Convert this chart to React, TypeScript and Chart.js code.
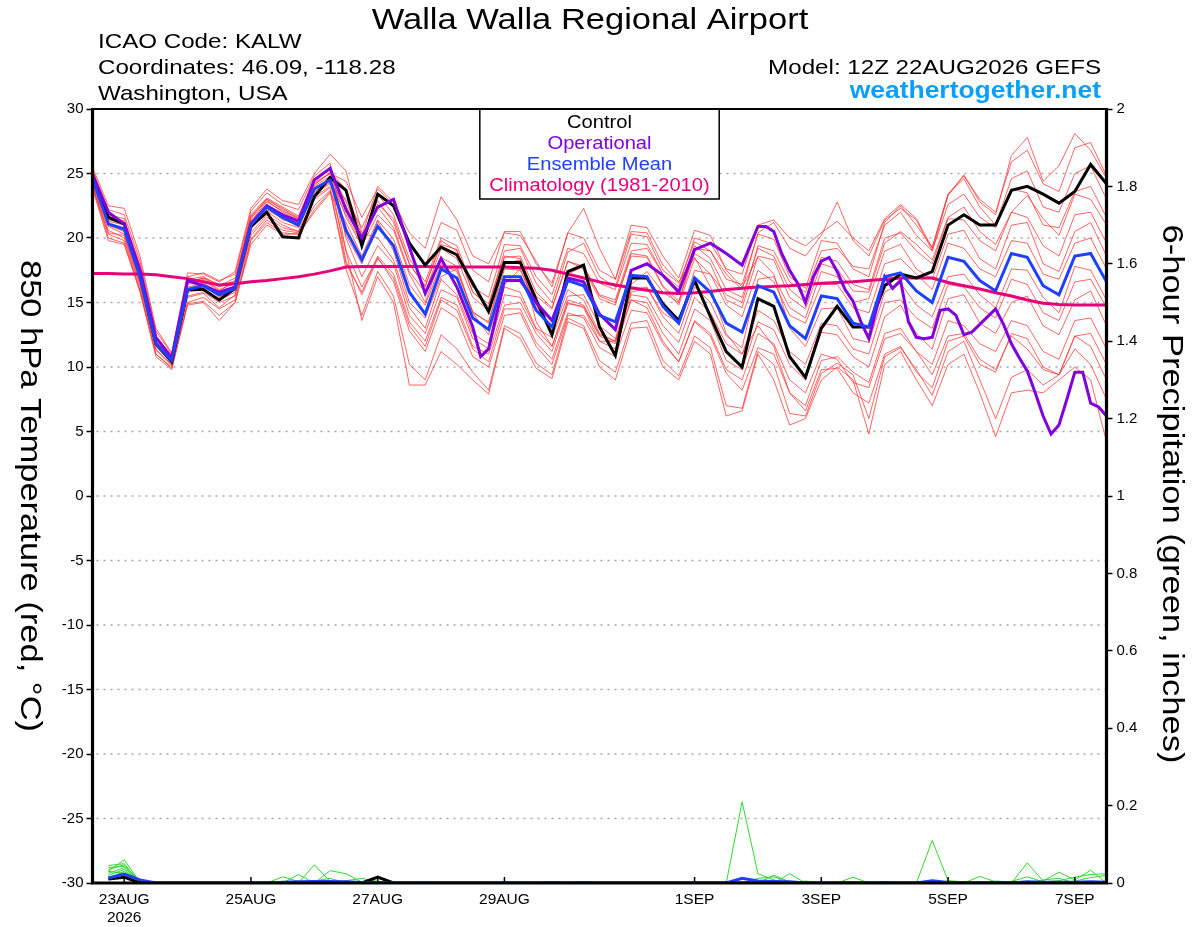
import React, { useEffect, useRef } from "react";
import { Chart, registerables } from "chart.js";

Chart.register(...registerables);

// ---------------- data ----------------
const STEP_HOURS = 6; // one value every 6 h from 12Z 22AUG2026
const X_MAX_HOURS = 384;

const xTickHours = [12, 60, 108, 156, 228, 276, 324, 372];
const xTickLabels: (string | string[])[] = [["23AUG", "2026"], "25AUG", "27AUG", "29AUG", "1SEP", "3SEP", "5SEP", "7SEP"];

const tempAxis = { min: -30, max: 30, step: 5 };
const precipAxis = { min: 0, max: 2, step: 0.2 };

const controlTemp = [
  24.9, 21.6, 21.1, 17.1, 11.8, 10.4, 16.0, 16.0, 15.2, 16.1,
  20.9, 22.0, 20.1, 20.0, 23.2, 24.7, 23.7, 19.4, 23.4, 22.5,
  19.6, 17.9, 19.3, 18.7, 16.5, 14.3, 18.1, 18.1, 15.2, 12.5,
  17.4, 17.9, 13.1, 10.9, 16.9, 16.9, 14.9, 13.6, 16.7, 13.9,
  11.2, 10.0, 15.3, 14.7, 10.8, 9.2, 13.0, 14.7, 13.1, 13.1,
  16.3, 17.2, 16.9, 17.4, 21.0, 21.8, 21.0, 21.0, 23.7, 24.0,
  23.4, 22.7, 23.6, 25.7, 24.2,
];

const meanTemp = [
  24.6, 21.1, 20.7, 17.0, 11.8, 10.5, 16.0, 16.3, 15.6, 16.1,
  21.0, 22.4, 21.6, 21.0, 23.8, 24.5, 20.6, 18.3, 20.9, 19.4,
  15.8, 14.1, 17.6, 16.9, 13.8, 12.9, 17.0, 17.0, 14.4, 13.1,
  16.7, 16.3, 14.0, 13.5, 17.1, 17.0, 14.7, 13.4, 16.9, 15.8,
  13.4, 12.7, 16.3, 15.8, 13.2, 12.2, 15.5, 15.3, 13.4, 13.1,
  17.0, 17.3, 15.9, 15.0, 18.5, 18.2, 16.7, 15.9, 18.8, 18.5,
  16.3, 15.6, 18.6, 18.8, 16.6,
];

const climatologyTemp = [
  17.25, 17.25, 17.2, 17.2, 17.15, 17.0, 16.85, 16.6, 16.35, 16.45,
  16.6, 16.7, 16.85, 17.0, 17.2, 17.45, 17.75, 17.8, 17.8, 17.8,
  17.8, 17.8, 17.75, 17.75, 17.75, 17.75, 17.75, 17.7, 17.65, 17.5,
  17.2, 16.9, 16.6, 16.35, 16.15, 15.95, 15.75, 15.7, 15.75, 15.85,
  16.0, 16.1, 16.2, 16.25, 16.3, 16.4, 16.5, 16.55, 16.6, 16.7,
  16.8, 16.9, 16.9, 16.9, 16.55, 16.3, 16.05, 15.75, 15.5, 15.2,
  14.95, 14.85, 14.8, 14.8, 14.8,
];

// operational run (3-hourly in places)
const opHours = [
  0, 6, 12, 18, 24, 30, 36, 42, 48, 54, 60, 66, 72, 78, 84, 90, 96, 102, 108, 114, 120, 126, 132, 138, 144,
  147,
  150, 156, 162, 168, 174, 180, 186, 192, 198, 204, 210, 216, 222, 228, 234, 240, 246, 252,
  255, 258, 261, 264, 267, 270, 273, 276, 279, 282, 285, 288, 291, 294, 297, 300, 303, 306, 309, 312, 315, 318,
  321, 324, 327, 330, 333, 336, 339, 342, 345, 348, 351, 354, 357, 360, 363, 366, 369, 372, 375, 378, 381, 384,
];
const operationalTemp = [
  24.9, 22.0, 21.1, 17.5, 12.3, 10.7, 16.7, 16.3, 15.8, 16.2, 21.1, 22.5, 21.8, 21.3, 24.5, 25.4, 22.2, 20.0, 22.4, 23.0, 19.3, 15.7, 18.4, 16.2, 13.1,
  10.8,
  11.4, 16.7, 16.7, 15.0, 13.6, 16.9, 16.6, 14.1, 12.9, 17.5, 18.0, 17.1, 15.8, 19.1, 19.6, 18.8, 17.9, 20.9,
  20.9, 20.5, 18.8, 17.5, 16.5, 15.0, 17.0, 18.2, 18.5, 17.4, 16.0, 15.1, 13.5, 12.2, 14.6, 17.0, 16.1, 16.7, 13.5, 12.3,
  12.2, 12.3, 14.4, 14.5, 14.0, 12.5, 12.7, 13.3, 13.9, 14.5, 13.3, 11.8, 10.7, 9.7, 8.0, 6.2, 4.8, 5.5, 7.5, 9.6, 9.6, 7.2, 6.9, 6.2,
];

// ensemble members (850 hPa temperature)
const member01 = [
  25.2, 21.8, 21.5, 17.9, 12.4, 10.9, 16.8, 17.0, 16.3, 16.9,
  21.8, 23.1, 22.4, 21.7, 24.5, 25.3, 22.8, 20.1, 22.9, 21.2,
  18.0, 16.3, 19.5, 19.1, 15.8, 14.7, 19.0, 19.2, 16.5, 15.0,
  18.9, 19.6, 17.0, 16.2, 20.3, 20.1, 17.5, 16.5, 19.7, 19.0,
  16.8, 16.4, 20.3, 19.9, 17.0, 16.1, 19.8, 19.6, 17.6, 17.0,
  21.2, 22.5, 21.0, 19.3, 23.4, 24.8, 23.0, 22.0, 25.9, 26.8,
  24.2, 23.6, 27.0, 27.4, 24.8,
];
const member02 = [
  24.0, 20.3, 19.8, 16.0, 11.0, 10.0, 15.0, 15.4, 14.5, 15.2,
  19.9, 21.4, 20.6, 20.4, 22.5, 23.7, 17.6, 14.0, 17.4, 15.5,
  10.2, 9.0, 12.5, 11.4, 9.6, 8.2, 13.2, 12.6, 10.3, 9.4,
  13.8, 13.2, 10.5, 9.6, 13.4, 13.6, 10.5, 9.3, 12.4, 11.5,
  7.0, 6.8, 11.2, 10.2, 6.4, 6.2, 9.5, 10.3, 9.4, 6.0,
  10.8, 11.5, 9.8, 7.8, 11.2, 12.0, 9.0, 6.0, 9.2, 9.8,
  8.6, 9.4, 11.4, 10.2, 7.5,
];
const member03 = [
  24.8, 21.4, 21.2, 17.5, 12.0, 10.6, 16.4, 16.7, 15.9, 16.6,
  21.5, 22.9, 22.0, 21.4, 24.2, 25.0, 21.6, 19.4, 21.8, 20.6,
  17.2, 15.0, 18.5, 17.8, 14.2, 13.5, 18.0, 18.3, 15.5, 14.5,
  18.2, 17.6, 15.3, 14.8, 18.8, 18.6, 16.3, 15.1, 18.8, 18.0,
  15.2, 14.6, 18.6, 18.3, 15.4, 14.5, 18.0, 17.6, 15.9, 15.8,
  19.6, 20.5, 19.5, 18.3, 21.6, 22.4, 20.5, 19.5, 22.0, 23.3,
  21.5, 20.2, 23.4, 23.0, 21.0,
];
const member04 = [
  24.4, 20.9, 20.3, 16.6, 11.6, 10.3, 15.8, 16.0, 15.2, 15.8,
  20.7, 22.1, 21.2, 20.8, 23.5, 24.2, 22.5, 20.0, 22.6, 21.5,
  18.0, 16.2, 19.8, 19.0, 15.8, 14.9, 18.6, 18.4, 13.5, 11.6,
  15.0, 14.6, 12.0, 11.4, 15.2, 15.0, 12.6, 11.0, 14.5, 13.6,
  10.5, 9.8, 13.5, 12.9, 10.2, 9.0, 12.7, 12.5, 10.8, 10.0,
  13.9, 14.8, 12.6, 11.4, 15.3, 15.6, 13.4, 12.6, 15.0, 15.5,
  13.2, 12.5, 15.2, 15.9, 13.2,
];
const member05 = [
  25.5, 22.5, 22.3, 18.6, 13.0, 11.1, 17.3, 17.2, 16.6, 17.4,
  22.3, 23.8, 22.9, 22.6, 25.0, 26.5, 25.2, 20.4, 20.0, 18.3,
  14.6, 13.0, 16.8, 15.6, 12.6, 11.8, 16.2, 15.8, 13.0, 12.3,
  15.5, 15.6, 13.2, 12.2, 16.0, 16.2, 13.9, 12.6, 16.2, 15.0,
  12.4, 11.5, 16.8, 17.0, 14.6, 13.8, 17.4, 17.0, 15.0, 15.3,
  19.0, 19.5, 17.6, 16.8, 20.3, 20.6, 18.4, 17.6, 21.0, 21.2,
  18.0, 17.4, 20.5, 21.2, 18.6,
];
const member06 = [
  24.0, 20.0, 19.6, 15.9, 11.0, 9.9, 14.9, 15.1, 14.0, 15.0,
  19.8, 21.2, 20.4, 20.3, 22.2, 23.6, 18.0, 15.8, 18.6, 17.2,
  13.5, 12.0, 15.4, 14.8, 11.6, 11.0, 14.8, 15.0, 12.6, 11.2,
  14.9, 14.7, 12.4, 11.8, 15.8, 16.1, 14.2, 13.4, 17.5, 17.2,
  15.6, 15.0, 19.4, 19.0, 16.6, 15.8, 19.0, 19.2, 17.8, 17.6,
  21.0, 22.0, 20.2, 19.0, 22.6, 23.4, 21.6, 20.8, 23.8, 23.5,
  21.0, 20.8, 23.6, 24.0, 21.6,
];
const member07 = [
  25.0, 21.5, 21.0, 17.3, 12.2, 10.8, 16.5, 16.8, 16.0, 16.5,
  21.3, 22.8, 22.1, 21.5, 24.1, 25.1, 23.8, 20.2, 24.0, 22.8,
  20.4, 19.2, 23.2, 21.4, 18.6, 18.0, 20.4, 20.2, 18.2, 16.2,
  20.4, 22.3, 19.2, 16.8, 21.0, 20.8, 18.6, 16.9, 20.6, 20.2,
  17.5, 16.2, 18.5, 17.2, 13.0, 11.6, 14.5, 14.6, 12.2, 11.9,
  15.8, 16.5, 14.8, 13.9, 17.0, 17.2, 15.6, 14.6, 17.6, 17.5,
  15.4, 14.2, 17.8, 17.5, 15.2,
];
const member08 = [
  24.2, 20.6, 20.0, 16.3, 11.3, 10.2, 15.4, 15.7, 14.6, 15.6,
  20.2, 21.6, 20.8, 20.5, 23.0, 23.9, 19.0, 13.6, 17.0, 15.0,
  8.6, 8.6, 11.2, 10.2, 9.0, 7.9, 13.0, 12.2, 9.9, 9.1,
  13.5, 13.0, 10.0, 9.0, 13.0, 13.1, 10.0, 9.0, 12.0, 11.0,
  6.2, 6.6, 11.0, 9.0, 5.5, 6.0, 9.0, 10.0, 9.0, 4.8,
  10.2, 11.2, 9.0, 7.0, 10.2, 11.0, 8.0, 4.6, 8.0, 8.2,
  8.0, 9.0, 10.0, 9.0, 4.2,
];
const member09 = [
  24.6, 21.0, 20.6, 17.0, 11.7, 10.4, 16.1, 16.4, 15.4, 16.3,
  21.1, 22.5, 21.4, 21.2, 23.9, 24.6, 20.2, 18.0, 21.3, 19.0,
  15.0, 13.8, 17.0, 17.6, 14.2, 12.5, 16.4, 17.6, 14.8, 12.6,
  16.0, 15.2, 12.6, 12.0, 15.2, 14.6, 12.0, 10.4, 13.5, 12.4,
  9.5, 8.2, 11.5, 11.0, 8.0, 7.0, 10.5, 10.8, 9.6, 8.8,
  12.6, 13.0, 11.2, 9.4, 12.4, 12.6, 10.6, 9.8, 12.4, 11.4,
  9.8, 9.4, 12.4, 11.6, 9.0,
];
const member10 = [
  25.1, 21.7, 21.3, 17.6, 12.3, 10.7, 16.6, 16.9, 16.2, 16.7,
  21.7, 23.0, 22.3, 21.6, 24.4, 25.4, 19.0, 16.2, 18.5, 16.6,
  12.8, 11.2, 14.6, 13.8, 10.8, 10.0, 14.0, 14.2, 11.6, 10.2,
  14.0, 14.0, 12.0, 12.0, 16.4, 17.4, 15.8, 15.0, 19.2, 19.0,
  17.2, 16.0, 20.4, 21.2, 19.2, 18.6, 20.2, 22.8, 19.8, 18.6,
  21.4, 22.3, 21.4, 19.0, 23.3, 24.9, 22.8, 21.8, 26.4, 27.8,
  24.4, 25.6, 28.1, 26.8, 24.6,
];
const member11 = [
  24.5, 21.0, 20.5, 16.8, 11.9, 10.6, 15.9, 16.2, 15.5, 16.0,
  20.8, 22.2, 21.5, 20.9, 23.6, 24.3, 21.8, 19.6, 22.4, 20.8,
  17.4, 15.8, 19.2, 18.4, 15.4, 14.4, 18.5, 18.6, 15.8, 14.6,
  18.2, 17.8, 15.5, 15.0, 18.6, 18.5, 16.2, 14.8, 18.4, 17.2,
  14.8, 13.9, 17.5, 16.6, 14.0, 13.4, 16.4, 16.4, 14.6, 14.2,
  18.0, 18.4, 17.2, 16.0, 19.6, 19.2, 17.6, 17.0, 19.8, 19.6,
  17.2, 16.8, 19.6, 20.0, 17.6,
];
const member12 = [
  25.3, 22.2, 21.8, 18.2, 12.8, 11.0, 17.0, 17.3, 16.7, 17.2,
  22.1, 23.5, 22.6, 22.2, 24.8, 25.8, 20.0, 17.0, 19.4, 18.0,
  14.0, 12.6, 16.0, 15.4, 12.2, 11.4, 15.6, 15.4, 12.9, 11.6,
  15.2, 14.8, 12.5, 12.0, 15.6, 15.4, 13.2, 11.9, 15.4, 14.2,
  11.8, 11.0, 14.4, 13.6, 11.2, 10.2, 13.4, 13.2, 11.4, 11.0,
  15.0, 15.2, 13.8, 13.0, 16.4, 16.2, 14.6, 13.8, 16.8, 16.4,
  14.2, 13.6, 16.6, 16.8, 14.6,
];
const member13 = [
  24.1, 20.4, 20.2, 16.4, 11.4, 10.1, 15.5, 15.8, 15.0, 15.5,
  20.4, 21.8, 21.0, 20.5, 23.2, 24.0, 23.0, 20.8, 23.4, 21.8,
  18.4, 16.6, 20.0, 19.4, 16.2, 15.4, 19.5, 19.4, 17.0, 15.6,
  19.2, 18.8, 16.5, 16.0, 19.6, 19.5, 17.2, 16.0, 19.4, 18.4,
  16.0, 15.4, 19.2, 18.6, 16.0, 15.0, 18.5, 18.2, 16.4, 16.0,
  20.0, 20.4, 19.0, 18.0, 21.5, 21.4, 19.8, 19.0, 22.0, 21.6,
  19.4, 18.6, 21.8, 22.0, 19.6,
];
const member14 = [
  24.7, 21.3, 21.0, 17.2, 12.0, 10.5, 16.2, 16.5, 15.8, 16.2,
  21.2, 22.6, 21.8, 21.1, 24.0, 24.8, 18.2, 15.6, 18.4, 16.9,
  13.2, 11.6, 15.2, 14.4, 11.4, 10.4, 14.5, 14.5, 11.9, 10.6,
  14.2, 13.8, 11.5, 10.8, 14.4, 14.2, 11.8, 10.4, 13.6, 12.6,
  9.8, 9.0, 12.6, 11.8, 9.0, 8.0, 11.0, 10.6, 8.8, 8.4,
  12.2, 12.6, 11.2, 10.2, 13.6, 13.2, 11.8, 11.2, 13.6, 13.2,
  11.2, 10.6, 13.6, 13.8, 11.4,
];
const member15 = [
  23.8, 19.8, 19.5, 15.8, 10.8, 9.8, 14.8, 15.0, 13.6, 15.0,
  19.5, 21.0, 20.3, 20.3, 22.0, 23.5, 21.2, 18.6, 21.4, 19.9,
  16.4, 14.8, 18.0, 17.4, 14.3, 13.4, 17.6, 17.5, 14.9, 13.6,
  17.2, 17.8, 15.6, 15.2, 19.0, 19.2, 17.2, 16.2, 20.0, 19.6,
  17.6, 17.2, 21.0, 21.4, 20.0, 19.4, 20.4, 21.3, 20.0, 19.0,
  21.5, 22.6, 21.5, 19.2, 23.4, 24.6, 22.4, 21.0, 24.6, 25.2,
  22.4, 22.0, 25.0, 25.6, 23.0,
];
const member16 = [
  24.9, 21.6, 21.1, 17.4, 12.2, 10.7, 16.5, 16.9, 16.4, 16.6,
  21.6, 23.0, 22.2, 21.5, 24.3, 25.0, 24.4, 21.6, 23.8, 22.6,
  19.6, 17.8, 21.2, 20.6, 17.5, 16.6, 20.5, 20.5, 18.0, 16.5,
  20.4, 20.0, 17.5, 16.8, 20.5, 20.4, 17.9, 16.6, 18.5, 16.2,
  12.6, 11.0, 13.2, 11.6, 8.0, 6.6, 9.8, 9.9, 8.0, 7.2,
  11.0, 11.6, 9.6, 8.4, 12.0, 12.4, 10.2, 9.6, 12.6, 12.2,
  10.0, 9.4, 12.4, 12.6, 10.2,
];
const ensembleMembers = [
  member01, member02, member03, member04, member05, member06, member07, member08,
  member09, member10, member11, member12, member13, member14, member15, member16,
];

// 6-hour precipitation (inches); first step has no accumulation
const controlPrecip = [
  null, 0.01, 0.015, 0, 0, 0, 0, 0, 0, 0,
  0, 0, 0, 0, 0, 0, 0, 0, 0.015, 0,
  0, 0, 0, 0, 0, 0, 0, 0, 0, 0,
  0, 0, 0, 0, 0, 0, 0, 0, 0, 0,
  0, 0, 0, 0, 0, 0, 0, 0, 0, 0,
  0, 0, 0, 0, 0, 0, 0, 0, 0, 0,
  0, 0, 0, 0, 0,
];
const meanPrecip = [
  null, 0.013, 0.023, 0.008, 0, 0, 0, 0, 0, 0,
  0, 0, 0.002, 0.003, 0.004, 0.004, 0.003, 0.001, 0.001, 0,
  0, 0, 0, 0, 0, 0, 0, 0, 0, 0,
  0, 0, 0, 0, 0, 0, 0, 0, 0, 0,
  0, 0.012, 0.005, 0.004, 0.003, 0, 0, 0, 0.001, 0,
  0, 0, 0, 0.006, 0.001, 0, 0.001, 0, 0, 0.003,
  0.002, 0.002, 0.002, 0.003, 0.002,
];
const precip01 = [
  null, 0.03, 0.06, 0.002, 0, 0, 0, 0, 0, 0,
  0, 0, 0, 0, 0, 0, 0, 0, 0, 0,
  0, 0, 0, 0, 0, 0, 0, 0, 0, 0,
  0, 0, 0, 0, 0, 0, 0, 0, 0, 0,
  0, 0.21, 0.024, 0.008, 0, 0, 0, 0, 0, 0,
  0, 0, 0, 0, 0, 0, 0, 0, 0, 0,
  0, 0, 0, 0, 0,
];
const precip02 = [
  null, 0.045, 0.05, 0, 0, 0, 0, 0, 0, 0,
  0, 0, 0, 0.022, 0, 0, 0, 0, 0, 0,
  0, 0, 0, 0, 0, 0, 0, 0, 0, 0,
  0, 0, 0, 0, 0, 0, 0, 0, 0, 0,
  0, 0, 0, 0, 0, 0, 0, 0, 0, 0,
  0, 0, 0, 0.11, 0.006, 0.003, 0, 0, 0, 0,
  0, 0, 0, 0, 0,
];
const precip03 = [
  null, 0.035, 0.047, 0.003, 0, 0, 0, 0, 0, 0,
  0, 0, 0, 0, 0.047, 0.004, 0, 0, 0, 0,
  0, 0, 0, 0, 0, 0, 0, 0, 0, 0,
  0, 0, 0, 0, 0, 0, 0, 0, 0, 0,
  0, 0, 0, 0, 0, 0, 0, 0, 0, 0,
  0, 0, 0, 0, 0, 0, 0, 0, 0, 0.052,
  0.005, 0.028, 0.008, 0.033, 0,
];
const precip04 = [
  null, 0.025, 0.04, 0, 0, 0, 0, 0, 0, 0,
  0, 0, 0, 0, 0, 0.032, 0.024, 0.002, 0, 0,
  0, 0, 0, 0, 0, 0, 0, 0, 0, 0,
  0, 0, 0, 0, 0, 0, 0, 0, 0, 0,
  0, 0, 0, 0.02, 0.003, 0, 0, 0, 0, 0,
  0, 0, 0, 0, 0, 0, 0, 0, 0, 0,
  0, 0, 0, 0, 0,
];
const precip05 = [
  null, 0.02, 0.035, 0, 0, 0, 0, 0, 0, 0,
  0, 0, 0.016, 0.004, 0, 0, 0, 0, 0, 0,
  0, 0, 0, 0, 0, 0, 0, 0, 0, 0,
  0, 0, 0, 0, 0, 0, 0, 0, 0, 0,
  0, 0, 0, 0, 0.024, 0, 0, 0, 0, 0,
  0, 0, 0, 0, 0, 0, 0.017, 0.003, 0.004, 0.016,
  0.003, 0.006, 0.015, 0.022, 0.024,
];
const precip06 = [
  null, 0.012, 0.03, 0, 0, 0, 0, 0, 0, 0,
  0, 0, 0, 0, 0, 0, 0, 0, 0, 0,
  0, 0, 0, 0, 0, 0, 0, 0.002, 0, 0,
  0, 0, 0, 0, 0, 0, 0, 0, 0, 0,
  0, 0, 0, 0, 0, 0, 0, 0, 0.015, 0,
  0, 0, 0, 0, 0, 0, 0, 0, 0, 0,
  0, 0, 0, 0, 0,
];
const precip07 = [
  null, 0.03, 0.025, 0, 0, 0, 0, 0, 0, 0,
  0, 0, 0, 0, 0, 0, 0, 0, 0, 0,
  0, 0, 0, 0, 0, 0, 0, 0, 0, 0.004,
  0, 0.004, 0, 0, 0, 0, 0, 0, 0, 0,
  0, 0, 0.012, 0.016, 0.003, 0, 0, 0, 0, 0,
  0, 0, 0, 0, 0, 0, 0, 0.005, 0.003, 0,
  0, 0, 0, 0, 0,
];
const precip08 = [
  null, 0.015, 0.02, 0.004, 0, 0, 0, 0, 0, 0,
  0, 0, 0, 0, 0, 0, 0, 0, 0, 0,
  0, 0.003, 0, 0, 0, 0, 0, 0, 0, 0,
  0, 0, 0, 0, 0, 0, 0, 0, 0, 0,
  0, 0, 0, 0, 0, 0, 0, 0, 0, 0,
  0, 0, 0, 0, 0, 0, 0, 0, 0, 0,
  0, 0, 0.005, 0.014, 0.02,
];
const precip09 = [
  null, 0.04, 0.043, 0, 0, 0, 0, 0, 0, 0,
  0, 0, 0, 0, 0, 0, 0.006, 0.012, 0.004, 0,
  0, 0, 0, 0, 0, 0, 0, 0, 0, 0,
  0, 0, 0, 0, 0, 0, 0, 0, 0, 0,
  0, 0, 0, 0, 0, 0, 0, 0, 0, 0,
  0.004, 0, 0, 0, 0.005, 0, 0, 0, 0, 0,
  0, 0, 0, 0, 0,
];
const precip10 = [
  null, 0.01, 0.015, 0, 0, 0, 0, 0, 0, 0,
  0, 0, 0, 0, 0.005, 0.012, 0, 0, 0, 0,
  0, 0, 0, 0, 0, 0, 0, 0, 0, 0,
  0, 0, 0, 0, 0, 0, 0, 0, 0, 0,
  0, 0, 0, 0, 0, 0.005, 0, 0, 0, 0,
  0, 0, 0, 0, 0, 0, 0, 0, 0, 0,
  0.008, 0.012, 0, 0, 0,
];
const ensemblePrecip = [precip01, precip02, precip03, precip04, precip05, precip06, precip07, precip08, precip09, precip10];

// ---------------- text ----------------
const chartTitle = "Walla Walla Regional Airport";
const infoLines = ["ICAO Code: KALW", "Coordinates: 46.09, -118.28", "Washington, USA"];
const modelLine = "Model: 12Z 22AUG2026 GEFS";
const siteLine = "weathertogether.net";
const leftAxisTitle = "850 hPa Temperature (red, \u00B0C)";
const rightAxisTitle = "6-hour Precipitation (green, inches)";
const legendLabels = ["Control", "Operational", "Ensemble Mean", "Climatology (1981-2010)"];

// ---------------- styles ----------------
const FONT = '"Liberation Sans", Arial, Helvetica, sans-serif';
const STRETCH = 1.15;
const C_CONTROL = "#000000";
const C_OPER = "#8200dc";
const C_MEAN = "#2040ff";
const C_CLIM = "#e8007a";
const C_MEMBER = "rgba(255,50,50,0.75)";
const C_PRECIP = "rgb(45,218,45)";
const C_SITE = "#0aa0fa";
const legendColors = [C_CONTROL, C_OPER, C_MEAN, C_CLIM];

const W = 1200;
const H = 927;

function drawText(ctx: CanvasRenderingContext2D, text: string, x: number, y: number, size: number, opts: any = {}) {
  const { color = "#000", bold = false, align = "left", rotate = 0 } = opts;
  ctx.save();
  ctx.translate(x, y);
  if (rotate) ctx.rotate(rotate);
  ctx.scale(STRETCH, 1);
  ctx.font = `${bold ? "bold " : ""}${size}px ${FONT}`;
  ctx.fillStyle = color;
  ctx.textAlign = align;
  ctx.textBaseline = "alphabetic";
  ctx.fillText(text, 0, 0);
  ctx.restore();
}

const xy = (vals: (number | null)[]) => vals.map((v, i) => ({ x: i * STEP_HOURS, y: v }));

const decorPlugin = {
  id: "decor",
  beforeDatasetsDraw(chart: any) {
    const { ctx, chartArea: a } = chart;
    const yT = chart.scales.yT;
    ctx.save();
    ctx.strokeStyle = "#a6a6a6";
    ctx.lineWidth = 1.5;
    ctx.setLineDash([2, 5]);
    for (let v = tempAxis.min + tempAxis.step; v < tempAxis.max; v += tempAxis.step) {
      const y = yT.getPixelForValue(v);
      ctx.beginPath();
      ctx.moveTo(a.left + 4, y);
      ctx.lineTo(a.right, y);
      ctx.stroke();
    }
    ctx.restore();
  },
  afterDatasetsDraw(chart: any) {
    const { ctx, chartArea: a } = chart;
    // legend box
    const size = 17.5;
    ctx.save();
    ctx.font = `${size}px ${FONT}`;
    const textW = Math.max(...legendLabels.map((t) => ctx.measureText(t).width)) * STRETCH;
    ctx.restore();
    const cx = (a.left + a.right) / 2;
    const boxW = textW + 19;
    const boxH = 90;
    ctx.save();
    ctx.fillStyle = "#fff";
    ctx.fillRect(cx - boxW / 2, a.top, boxW, boxH);
    ctx.strokeStyle = "#000";
    ctx.lineWidth = 1.5;
    ctx.strokeRect(cx - boxW / 2, a.top, boxW, boxH);
    ctx.restore();
    legendLabels.forEach((t, i) => {
      drawText(ctx, t, cx, a.top + 18.5 + i * 21.3, size, { color: legendColors[i], align: "center" });
    });

    // frame
    ctx.save();
    ctx.strokeStyle = "#000";
    ctx.setLineDash([]);
    ctx.lineWidth = 2;
    ctx.beginPath();
    ctx.moveTo(a.left, a.top);
    ctx.lineTo(a.right, a.top);
    ctx.stroke();
    ctx.lineWidth = 3.2;
    ctx.beginPath();
    ctx.moveTo(a.left, a.top - 1);
    ctx.lineTo(a.left, a.bottom);
    ctx.lineTo(a.right, a.bottom);
    ctx.lineTo(a.right, a.top - 1);
    ctx.stroke();
    // inward x tick marks
    ctx.lineWidth = 1.5;
    const xs = chart.scales.x;
    for (const h of xTickHours) {
      const x = xs.getPixelForValue(h);
      ctx.beginPath();
      ctx.moveTo(x, a.bottom);
      ctx.lineTo(x, a.bottom - 6);
      ctx.stroke();
    }
    ctx.restore();
  },
  afterDraw(chart: any) {
    const { ctx, chartArea: a } = chart;
    drawText(ctx, chartTitle, 590, 29, 30, { align: "center" });
    const infoBase = [47.5, 73.5, 100];
    infoLines.forEach((t, i) => drawText(ctx, t, 98, infoBase[i], 21));
    drawText(ctx, modelLine, 1101, 73.5, 21, { align: "right" });
    drawText(ctx, siteLine, 1101, 97.5, 23, { align: "right", bold: true, color: C_SITE });
    const cy = (a.top + a.bottom) / 2;
    drawText(ctx, leftAxisTitle, 20.5, cy, 30, { align: "center", rotate: Math.PI / 2 });
    drawText(ctx, rightAxisTitle, 1163, cy - 2, 30, { align: "center", rotate: Math.PI / 2 });
  },
};

function buildConfig(): any {
  const datasets: any[] = [];
  ensembleMembers.forEach((m) =>
    datasets.push({ data: xy(m), yAxisID: "yT", borderColor: C_MEMBER, borderWidth: 1, order: 6 })
  );
  ensemblePrecip.forEach((p) =>
    datasets.push({ data: xy(p), yAxisID: "yP", borderColor: C_PRECIP, borderWidth: 1, order: 5 })
  );
  datasets.push({ data: xy(climatologyTemp), yAxisID: "yT", borderColor: C_CLIM, borderWidth: 3, order: 4 });
  datasets.push({ data: xy(controlTemp), yAxisID: "yT", borderColor: C_CONTROL, borderWidth: 3, order: 3 });
  datasets.push({ data: xy(controlPrecip), yAxisID: "yP", borderColor: C_CONTROL, borderWidth: 3, order: 3 });
  datasets.push({
    data: opHours.map((h, i) => ({ x: h, y: operationalTemp[i] })),
    yAxisID: "yT",
    borderColor: C_OPER,
    borderWidth: 3,
    order: 2,
  });
  datasets.push({ data: xy(meanTemp), yAxisID: "yT", borderColor: C_MEAN, borderWidth: 3, order: 1 });
  datasets.push({ data: xy(meanPrecip), yAxisID: "yP", borderColor: C_MEAN, borderWidth: 3, order: 1 });

  const tickFont = { family: FONT, size: 15 };
  return {
    type: "line",
    data: { datasets },
    plugins: [decorPlugin],
    options: {
      responsive: false,
      animation: false,
      events: [],
      layout: { padding: { top: 109, left: 0, right: 0, bottom: 0 } },
      plugins: { legend: { display: false }, tooltip: { enabled: false }, title: { display: false } },
      elements: { point: { radius: 0 }, line: { tension: 0, fill: false } },
      scales: {
        x: {
          type: "linear",
          position: "bottom",
          min: 0,
          max: X_MAX_HOURS,
          afterBuildTicks: (s: any) => {
            s.ticks = xTickHours.map((value) => ({ value }));
          },
          afterFit: (s: any) => {
            s.height = H - 883;
          },
          ticks: {
            autoSkip: false,
            maxRotation: 0,
            minRotation: 0,
            padding: 7,
            color: "#000",
            font: { family: FONT, size: 15.5 },
            callback: (v: any) => {
              const k = xTickHours.indexOf(Number(v));
              return k >= 0 ? xTickLabels[k] : "";
            },
          },
          grid: { display: true, drawOnChartArea: false, drawTicks: false },
          border: { display: false },
        },
        yT: {
          type: "linear",
          position: "left",
          min: tempAxis.min,
          max: tempAxis.max,
          afterFit: (s: any) => {
            s.width = 92.5;
          },
          ticks: {
            stepSize: tempAxis.step,
            padding: 3,
            color: "#000",
            font: tickFont,
            callback: (v: any) => String(v),
          },
          grid: { display: true, drawOnChartArea: false, drawTicks: true, tickLength: 6, tickWidth: 1.5, tickColor: "#000" },
          border: { display: false },
        },
        yP: {
          type: "linear",
          position: "right",
          min: precipAxis.min,
          max: precipAxis.max,
          afterFit: (s: any) => {
            s.width = W - 1106.5;
          },
          ticks: {
            stepSize: precipAxis.step,
            padding: 4,
            color: "#000",
            font: tickFont,
            callback: (v: any) => String(Math.round(Number(v) * 10) / 10),
          },
          grid: { display: true, drawOnChartArea: false, drawTicks: true, tickLength: 6, tickWidth: 1.5, tickColor: "#000" },
          border: { display: false },
        },
      },
    },
  };
}

export default function App() {
  const ref = useRef<HTMLCanvasElement | null>(null);
  useEffect(() => {
    if (!ref.current) return;
    const chart = new Chart(ref.current, buildConfig());
    return () => chart.destroy();
  }, []);
  return (
    <div style={{ position: "absolute", left: 0, top: 0, width: W, height: H, background: "#fff" }}>
      <canvas ref={ref} width={W} height={H} style={{ width: W, height: H, display: "block" }} />
    </div>
  );
}
